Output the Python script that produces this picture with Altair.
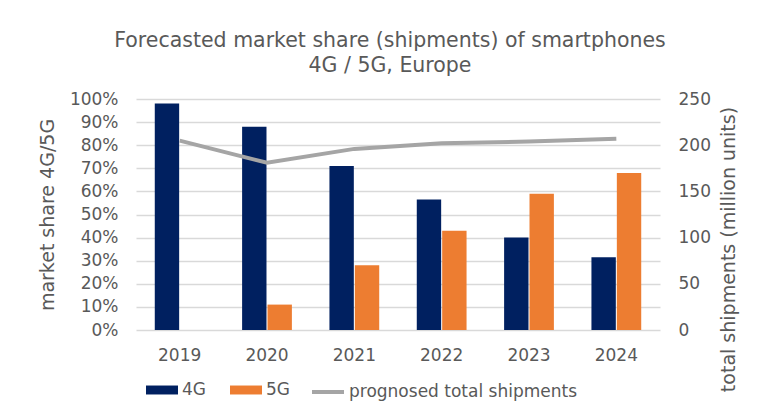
import altair as alt
import pandas as pd

years = ["2019", "2020", "2021", "2022", "2023", "2024"]
share_4g = [98, 88, 71, 56.5, 40, 31.5]
share_5g = [0, 11, 28, 43, 59, 68]
shipments = [205, 181, 196, 202, 204, 207]

bars_df = pd.DataFrame({
    "year": years * 2,
    "tech": ["4G"] * len(years) + ["5G"] * len(years),
    "share": [v / 100 for v in share_4g + share_5g],
})
line_df = pd.DataFrame({
    "year": years,
    "series": ["prognosed total shipments"] * len(years),
    "total": shipments,
})

FONT = "DejaVu Sans"
GREY = "#595959"
NAVY = "#002060"
ORANGE = "#ED7D31"
LINE = "#A5A5A5"

x_enc = alt.X(
    "year:N",
    scale=alt.Scale(paddingInner=0.43, paddingOuter=0.215),
    axis=alt.Axis(title=None, labelAngle=0, domain=False, ticks=False, labelPadding=17),
)

bars = alt.Chart(bars_df).mark_bar().encode(
    x=x_enc,
    xOffset=alt.XOffset("tech:N", scale=alt.Scale(paddingInner=0.04)),
    y=alt.Y(
        "share:Q",
        scale=alt.Scale(domain=[0, 1]),
        axis=alt.Axis(
            title="market share 4G/5G",
            format=".0%",
            values=[i / 10 for i in range(11)],
            grid=True,
            gridColor="#D9D9D9",
            gridWidth=1.5,
            domain=False,
            ticks=False,
            labelPadding=18,
            titlePadding=12,
        ),
    ),
    color=alt.Color(
        "tech:N",
        scale=alt.Scale(domain=["4G", "5G"], range=[NAVY, ORANGE]),
        legend=alt.Legend(
            title=None,
            orient="none",
            legendX=10,
            legendY=275,
            direction="horizontal",
            symbolType="M-1,-0.28H1V0.28H-1Z",
            symbolSize=1024,
            symbolStrokeWidth=0,
            labelOffset=4,
            columnPadding=24,
            labelLimit=400,
        ),
    ),
)

line = alt.Chart(line_df).mark_line(strokeWidth=4).encode(
    x=alt.X("year:N", bandPosition=0.5),
    y=alt.Y(
        "total:Q",
        scale=alt.Scale(domain=[0, 250]),
        axis=alt.Axis(
            title="total shipments (million units)",
            orient="right",
            values=[0, 50, 100, 150, 200, 250],
            grid=False,
            domain=False,
            ticks=False,
            labelPadding=18,
            titlePadding=9,
            titleAngle=270,
            titleBaseline="top",
            titleY=150,
        ),
    ),
    stroke=alt.Stroke(
        "series:N",
        scale=alt.Scale(domain=["prognosed total shipments"], range=[LINE]),
        legend=alt.Legend(
            title=None,
            orient="none",
            legendX=174,
            legendY=275,
            direction="horizontal",
            symbolType="stroke",
            symbolStrokeWidth=4,
            symbolSize=1024,
            labelOffset=3,
            labelLimit=400,
        ),
    ),
)

chart = alt.layer(bars, line).resolve_scale(y="independent").properties(
    width=524,
    height=231,
    padding={"left": 30, "top": 22, "right": 5, "bottom": 5},
    title=alt.TitleParams(
        ["Forecasted market share (shipments) of smartphones", "4G / 5G, Europe"],
        fontSize=20.5,
        font=FONT,
        color=GREY,
        fontWeight="normal",
        anchor="middle",
        lineHeight=25,
        offset=14,
        dx=-8,
    ),
).configure_axis(
    labelFont=FONT,
    titleFont=FONT,
    labelFontSize=17,
    titleFontSize=19,
    labelColor=GREY,
    titleColor=GREY,
    titleFontWeight="normal",
).configure_legend(
    labelFont=FONT,
    labelFontSize=17,
    labelColor=GREY,
).configure_view(stroke=None)

chart.save("out.html", embed_options={"renderer": "svg", "actions": False})
